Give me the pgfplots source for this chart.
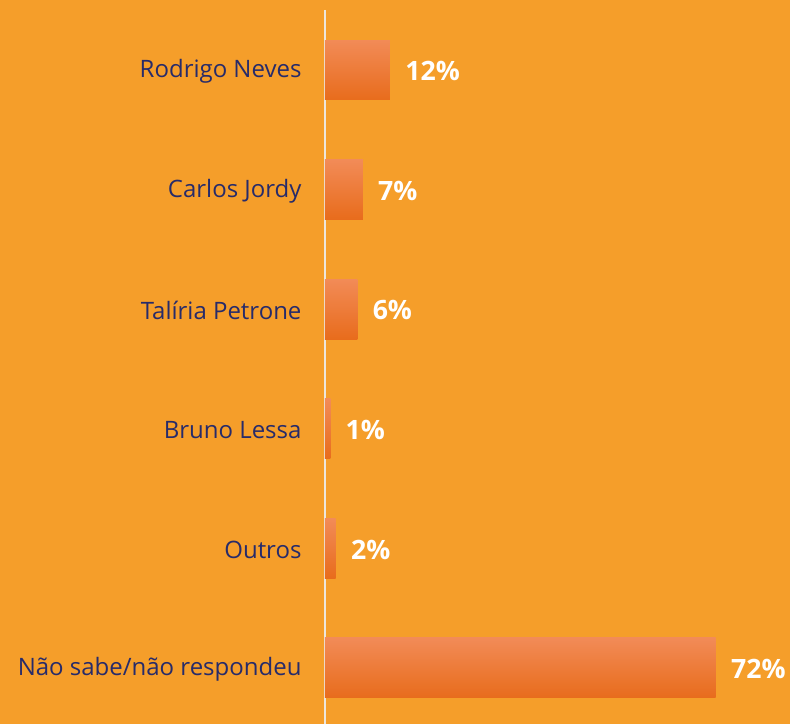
\documentclass[border=0pt]{standalone}
\usepackage{fontspec}
\setmainfont{Open Sans}
\usepackage{pgfplots}
\pgfplotsset{compat=1.18}
\definecolor{bg}{HTML}{F59E2A}
\definecolor{bartop}{HTML}{F28B57}
\definecolor{barmid}{HTML}{F57E2D}
\definecolor{barbot}{HTML}{E86C1C}
\definecolor{lab}{HTML}{272B6A}
\definecolor{axline}{HTML}{EDE6DC}
\pgfplotsset{gradbar/.style={draw=none, bar shift=0pt, top color=bartop, middle color=barmid, bottom color=barbot}}
\begin{document}
\begin{tikzpicture}[x=1pt,y=1pt]
% 1px = 0.75pt ; image 790x724 px, axis line at px 325
\fill[bg] (-243.75,0) rectangle (348.75,543);
\begin{axis}[
    at={(0,0)}, anchor=south west,
    scale only axis,
    width=348.75pt, height=535.5pt,
    xbar,
    bar width=45pt,
    xmin=0, xmax=85.6,
    ymin=-0.502, ymax=5.468,
    y dir=reverse,
    axis x line=none,
    axis y line*=left,
    y axis line style={axline, line width=1.4pt},
    ytick={0,1,2,3,4,5},
    yticklabels={Rodrigo Neves,Carlos Jordy,Talíria Petrone,Bruno Lessa,Outros,Não sabe/não respondeu},
    major tick length=0pt,
    yticklabel style={font=\fontsize{18}{21}\selectfont, text=lab, xshift=-14pt, yshift=-1pt},
    point meta=x,
    /pgf/number format/assume math mode=true,
    nodes near coords={\pgfmathprintnumber{\pgfplotspointmeta}\%},
    nodes near coords style={font=\fontsize{20}{24}\selectfont\bfseries, text=white, xshift=8pt, yshift=-1pt},
    clip=false,
]
\addplot[gradbar] coordinates {(12,0)};
\addplot[gradbar] coordinates {(7,1)};
\addplot[gradbar] coordinates {(6,2)};
\addplot[gradbar] coordinates {(1,3)};
\addplot[gradbar] coordinates {(2,4)};
\addplot[gradbar] coordinates {(72,5)};
\end{axis}
\end{tikzpicture}
\end{document}
